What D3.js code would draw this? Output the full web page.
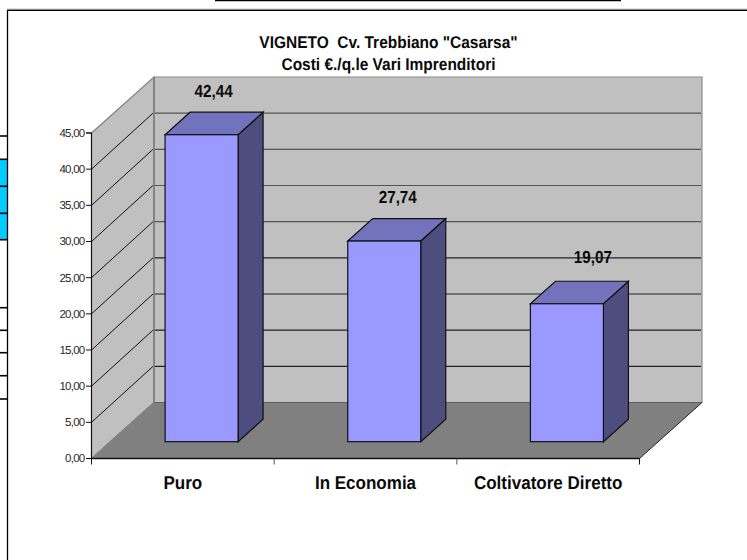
<!DOCTYPE html>
<html><head><meta charset="utf-8">
<script src="https://cdn.jsdelivr.net/npm/d3@7/dist/d3.min.js"></script>
<style>html,body{margin:0;padding:0;background:#fff}svg{display:block}text{font-family:"Liberation Sans",Arial,sans-serif;text-rendering:geometricPrecision}</style>
</head><body><svg id="c" width="747" height="560"></svg>
<script>
const categories = ["Puro", "In Economia", "Coltivatore Diretto"];
const values = [42.44, 27.74, 19.07];
const valueLabels = ["42,44", "27,74", "19,07"];
const yTicks = [0, 5, 10, 15, 20, 25, 30, 35, 40, 45];
const titleLines = ['VIGNETO  Cv. Trebbiano "Casarsa"', 'Costi €./q.le Vari Imprenditori'];

const svg = d3.select("#c");
const x = d3.scaleBand().domain(categories).range([91.5, 639.5]).paddingInner(0).paddingOuter(0);
const y = d3.scaleLinear().domain([0, 45]).range([458.5, 133]);
const wallDx = 62.5, wallDy = -56, barDx = 25, barDy = -22.5, gapDx = 18.75, gapDy = -16.8, barW = 73;
// hand-placed data label nudges, as in the original chart
const labelNudgeX = [12, 13.5, 26], labelNudgeY = [-15.5, -15.5, -18.5];
const line = (x1,y1,x2,y2,c,w) => svg.append("line").attr("x1",x1).attr("y1",y1).attr("x2",x2).attr("y2",y2).attr("stroke",c).attr("stroke-width",w);
const poly = (pts,f,s,w) => svg.append("polygon").attr("points",pts.map(p=>p.join(",")).join(" ")).attr("fill",f).attr("stroke",s).attr("stroke-width",w).attr("stroke-linejoin","miter");
// text drawn slightly condensed, like the original's tall narrow bold type
const label = (str,px,py,size,sx) => svg.append("text").attr("transform",`translate(${px},${py}) scale(${sx},1)`)
  .attr("text-anchor","middle").attr("font-size",size).attr("font-weight","bold").attr("fill","#0a0a0a").style("white-space","pre").text(str);

// page fragments around the chart
line(215,0.5,621,0.5,"#000",1.5);
svg.append("rect").attr("x",0).attr("y",159).attr("width",7).attr("height",81).attr("fill","#00ccff");
[136,159.3,186.3,213.3,239.7,307.7,330.3,352.7,375.7,399].forEach(v=>line(0,v,7,v,"#000",1.6));
line(7,9.2,747,9.2,"#999",1);
line(7.5,10.3,747,10.3,"#000",1.3);
line(7.5,10,7.5,560,"#000",1.3);

const x0 = x.range()[0], x1 = x.range()[1], y0 = y(0), yT = y(45);
// walls and floor
poly([[x0+wallDx,yT+wallDy],[x1+wallDx,yT+wallDy],[x1+wallDx,y0+wallDy],[x0+wallDx,y0+wallDy]],"#c0c0c0","#8c8c8c",1.2);
poly([[x0,yT],[x0+wallDx,yT+wallDy],[x0+wallDx,y0+wallDy],[x0,y0]],"#c0c0c0","#808080",1.2);
poly([[x0,y0],[x0+wallDx,y0+wallDy],[x1+wallDx,y0+wallDy],[x1,y0]],"#808080","none",0);
line(x0+wallDx,y0+wallDy,x1+wallDx,y0+wallDy,"#5f5f5f",1.2);
line(x1,y0,x1+wallDx,y0+wallDy,"#222",1);
line(x0,y0,x0+wallDx,y0+wallDy,"#808080",1);

// gridlines
yTicks.filter(t=>t>0 && t<45).forEach(t=>{
  line(x0,y(t),x0+wallDx-1,y(t)+wallDy,"#111",1);
});
yTicks.filter(t=>t>0 && t<=40).forEach(t=>{
  line(x0+wallDx,y(t)+wallDy,x1+wallDx-1,y(t)+wallDy, t>=25 ? "#555" : "#222",1.1);
});
line(x0+wallDx,yT+wallDy,x0+wallDx,y0+wallDy,"#808080",1.6);

// axes
const yAxis = d3.axisLeft(y).tickValues(yTicks).tickSize(5.5).tickPadding(1.5).offset(0)
  .tickFormat(d=>d3.format(".2f")(d).replace(".",","));
const gy = svg.append("g").attr("transform",`translate(${x0},0)`).call(yAxis);
gy.selectAll(".domain").attr("stroke","#111").attr("stroke-width",1.1);
gy.selectAll("line").attr("stroke","#111");
gy.selectAll("text").attr("font-size",11.5).attr("letter-spacing","-0.75px").attr("fill","#2a2a2a").attr("font-family",'"Liberation Sans"').attr("dy","0.34em");

const xTickPos = categories.map(c=>x(c)).concat([x1]);
line(x0,y0,x1,y0,"#111",1.3);
xTickPos.forEach((p,i)=>line(p,y0,p,y0+6,(i==0||i==3)?"#111":"#555",1));

// bars
categories.forEach((c,i)=>{
  const bx = x(c)+(x.bandwidth()-barW)/2+gapDx, by0 = y0+gapDy, h = y0-y(values[i]), top = by0-h;
  poly([[bx+barW,by0],[bx+barW+barDx,by0+barDy],[bx+barW+barDx,top+barDy],[bx+barW,top]],"#4d4d80","#111",1.2);
  poly([[bx,top],[bx+barDx,top+barDy],[bx+barW+barDx,top+barDy],[bx+barW,top]],"#7373bd","#111",1.2);
  svg.append("rect").attr("x",bx).attr("y",top).attr("width",barW).attr("height",h).attr("fill","#9999ff").attr("stroke","#111").attr("stroke-width",1.2);
  label(valueLabels[i],bx+barW/2+labelNudgeX[i],top+barDy+labelNudgeY[i],17.5,0.87);
  label(c,x(c)+x.bandwidth()/2,489,18.5,0.92);
});

// title
titleLines.forEach((t,i)=>label(t,388.5,[47.5,70][i],17,0.91));
</script></body></html>
